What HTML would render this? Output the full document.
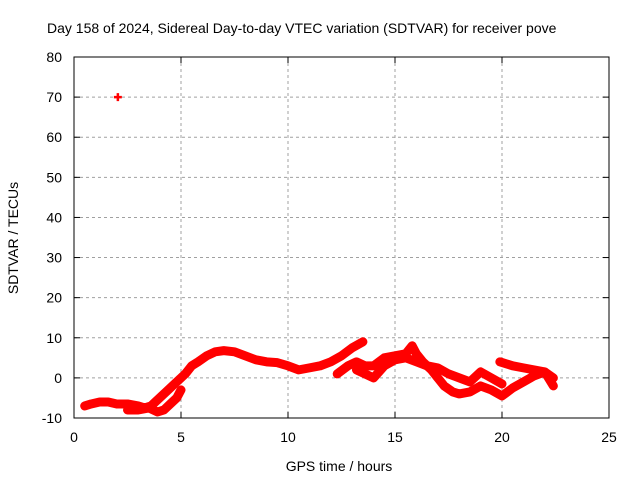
<!DOCTYPE html>
<html><head><meta charset="utf-8"><style>
body{margin:0;background:#fff}
svg{display:block;font-family:"Liberation Sans",sans-serif}
</style></head><body>
<svg id="c" width="640" height="480">
<rect width="640" height="480" fill="#fff"/>
<text x="47" y="33" font-size="14">Day 158 of 2024, Sidereal Day-to-day VTEC variation (SDTVAR) for receiver pove</text>
<g id="grid"></g>
<g id="axes"></g>
<g id="marks"></g>
<text x="339" y="471" font-size="14" text-anchor="middle">GPS time / hours</text>
<text transform="translate(18,238) rotate(-90)" font-size="14" text-anchor="middle">SDTVAR / TECUs</text>
</svg>
<script>
const xTicks=[0,5,10,15,20,25];
const yTicks=[-10,0,10,20,30,40,50,60,70,80];
const trackA_t=[0.5,0.8,1.2,1.6,2.0,2.5,3.0,3.3,3.6,4.0,4.4,4.8,5.2,5.5,5.8,6.2,6.6,7.0,7.5,8.0,8.5,9.0,9.5,10.0,10.5,11.0,11.5,12.0,12.5,13.0,13.5];
const trackA_v=[-7,-6.5,-6,-6,-6.5,-6.5,-7,-7.5,-7,-5,-3,-1,1,3,4,5.5,6.5,6.8,6.5,5.5,4.5,4,3.8,3,2,2.5,3,4,5.5,7.5,9];
const trackB_t=[12.3,12.8,13.2,13.6,14.0,14.5,15.0,15.5,15.8,16.0,16.3,16.7,17.0,17.3,17.7,18.0,18.5,19.0,19.5,20.0,20.5,21.0,21.5,22.0,22.4];
const trackB_v=[1,3,4,3,3,5,5.5,6,8,6,4,2,0,-2,-3.5,-4,-3.5,-2,-3,-4.5,-2.5,-1,0.5,1.5,0];
const trackC_t=[13.2,13.6,14.0,14.5,15.0,15.5,16.0,16.5,17.0,17.5,18.0,18.5,19.0,19.5,20.0];
const trackC_v=[2,1,0,3,4.5,5,4,3,2.5,1,0,-1,1.5,0,-1.5];
const trackD_t=[19.9,20.5,21.0,21.5,22.0,22.4];
const trackD_v=[4,3,2.5,2,1.5,-2];
const trackE_t=[2.5,3.0,3.5,3.9,4.2,4.5,4.8,5.0];
const trackE_v=[-8,-8,-7.5,-8.5,-8,-6.5,-5,-3];
const outlier_t=[2.05];
const outlier_v=[70];
const NS='http://www.w3.org/2000/svg';
const L=74,R=609,T=57,B=418;
const xs=t=>L+(t-0)/(25-0)*(R-L);
const ys=v=>B-(v+10)/90*(B-T);
function mk(tag,attrs,parent){const e=document.createElementNS(NS,tag);for(const k in attrs)e.setAttribute(k,attrs[k]);parent.appendChild(e);return e;}
const grid=document.getElementById('grid'),axes=document.getElementById('axes'),marks=document.getElementById('marks');
xTicks.forEach(t=>{const x=xs(t);
 if(t>0&&t<25){const g=mk('line',{x1:x,x2:x,y1:T,y2:B,stroke:'#a0a0a0','stroke-dasharray':'3,3'},grid);
 
 }
 mk('line',{x1:x,x2:x,y1:B,y2:B-6,stroke:'#000'},axes);mk('line',{x1:x,x2:x,y1:T,y2:T+6,stroke:'#000'},axes);
 const tx=mk('text',{x:x,y:B+24,'font-size':14,'text-anchor':'middle'},axes);tx.textContent=t;
 
 
});
yTicks.forEach(v=>{const y=ys(v);
 if(v>-10&&v<80){const g=mk('line',{x1:L,x2:R,y1:y,y2:y,stroke:'#a0a0a0','stroke-dasharray':'3,3'},grid);
 
 }
 mk('line',{x1:L,x2:L+6,y1:y,y2:y,stroke:'#000'},axes);mk('line',{x1:R,x2:R-6,y1:y,y2:y,stroke:'#000'},axes);
 const tx=mk('text',{x:L-12,y:y+5,'font-size':14,'text-anchor':'end'},axes);tx.textContent=v;
 
 
});
const fr=mk('rect',{x:L,y:T,width:R-L,height:B-T,fill:'none',stroke:'#000'},axes);


function track(ts,vs,name){
 const pts=ts.map((t,i)=>xs(t)+','+ys(vs[i])).join(' ');
 const p=mk('polyline',{points:pts,fill:'none',stroke:'#f00','stroke-width':9,'stroke-linejoin':'round','stroke-linecap':'round'},marks);
 
 
}
track(trackA_t,trackA_v,'track-a');
track(trackB_t,trackB_v,'track-b');
track(trackC_t,trackC_v,'track-c');
track(trackD_t,trackD_v,'track-d');
track(trackE_t,trackE_v,'track-e');
outlier_t.forEach((t,i)=>{const x=xs(t),y=ys(outlier_v[i]);
 const p=mk('path',{d:`M${x-4},${y}H${x+4}M${x},${y-4}V${y+4}`,stroke:'#f00','stroke-width':2.5},marks);
 
 
});
</script>
</body></html>
